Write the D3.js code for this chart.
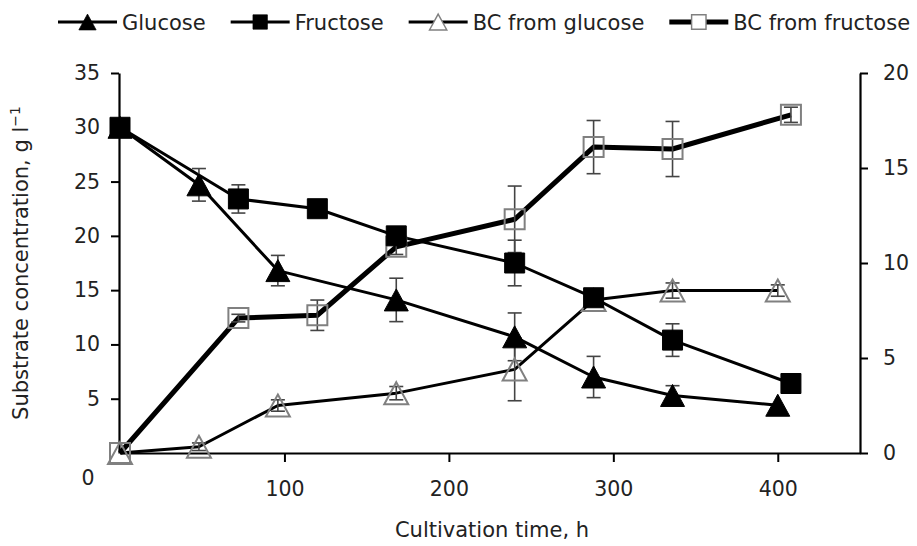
<!DOCTYPE html>
<html>
<head>
<meta charset="utf-8">
<script src="https://cdn.jsdelivr.net/npm/d3@7"></script>
<style>
  body { margin: 0; background: #fff; }
  text { font-family: "DejaVu Sans", Verdana, sans-serif; fill: #222; }
</style>
</head>
<body>
<svg id="chart" width="917" height="546"></svg>
<script>
// time points, h
const glucoseTime  = [0, 48, 96, 168, 240, 288, 336, 400];
const fructoseTime = [0, 72, 120, 168, 240, 288, 336, 408];

// substrate, g/l (left axis)
const glucose     = [30, 24.7, 16.8, 14.1, 10.7, 7.0, 5.3, 4.4];
const glucoseErr  = [0, 1.5, 1.4, 2.0, 2.2, 1.9, 0.9, 0];
const fructose    = [30, 23.4, 22.5, 20.0, 17.5, 14.3, 10.4, 6.4];
const fructoseErr = [0, 1.3, 0.5, 0.8, 2.1, 0.5, 1.5, 0];

// bacterial cellulose (right axis)
const bcGlucose     = [0, 0.33, 2.5, 3.15, 4.4, 8.05, 8.55, 8.55];
const bcGlucoseErr  = [0, 0.2, 0.3, 0.35, 1.65, 0.3, 0.4, 0.3];
const bcFructose    = [0, 7.1, 7.25, 10.85, 12.3, 16.1, 16.0, 17.8];
const bcFructoseErr = [0, 0.2, 0.8, 0.4, 1.75, 1.4, 1.45, 0.4];

const xTicks = [100, 200, 300, 400];
const leftTicks = [5, 10, 15, 20, 25, 30, 35];
const rightTicks = [0, 5, 10, 15, 20];

const svg = d3.select("#chart");

const x = d3.scaleLinear().domain([0, 450]).range([120, 860]);
const yL = d3.scaleLinear().domain([0, 35]).range([453, 73]);
const yR = d3.scaleLinear().domain([0, 20]).range([453, 73]);

// marker shapes
function triPath(w, h) {
  return `M0,${-h / 2}L${w / 2},${h / 2}L${-w / 2},${h / 2}Z`;
}
function sqPath(s) {
  return `M${-s / 2},${-s / 2}h${s}v${s}h${-s}Z`;
}

const series = [
  { name: "Glucose", t: glucoseTime, v: glucose, e: glucoseErr, y: yL,
    shape: triPath(24, 22), fill: "#000", stroke: "#000", sw: 1, lw: 3 },
  { name: "Fructose", t: fructoseTime, v: fructose, e: fructoseErr, y: yL,
    shape: sqPath(20), fill: "#000", stroke: "#000", sw: 1, lw: 3 },
  { name: "BC from glucose", t: glucoseTime, v: bcGlucose, e: bcGlucoseErr, y: yR,
    shape: triPath(24, 22), fill: "none", stroke: "#808080", sw: 2, lw: 3 },
  { name: "BC from fructose", t: fructoseTime, v: bcFructose, e: bcFructoseErr, y: yR,
    shape: sqPath(20), fill: "none", stroke: "#808080", sw: 2, lw: 5 }
];

// axes
const xAxis = svg.append("g")
  .attr("transform", `translate(0,${yL(0)})`)
  .call(d3.axisBottom(x).tickValues(xTicks).tickSize(9).tickSizeOuter(0).tickPadding(19));

const leftAxis = svg.append("g")
  .attr("transform", `translate(${x(0) - 1},0)`)
  .call(d3.axisLeft(yL).tickValues(leftTicks).tickSize(8).tickSizeOuter(0).tickPadding(11));

const rightAxis = svg.append("g")
  .attr("transform", `translate(${x(450)},0)`)
  .call(d3.axisRight(yR).tickValues(rightTicks).tickSize(8).tickSizeOuter(0).tickPadding(15));

[xAxis, leftAxis, rightAxis].forEach(g => {
  g.select(".domain").attr("stroke", "#000").attr("stroke-width", 2.2);
  g.selectAll(".tick line").attr("stroke", "#000").attr("stroke-width", 2);
  g.selectAll(".tick text").style("font-size", "20.5px").attr("fill", "#222")
    .style("font-family", '"DejaVu Sans", Verdana, sans-serif');
});

// stray "0" label of the left axis, sitting below the x axis
svg.append("text")
  .attr("x", x(0) - 32)
  .attr("y", yL(0) + 32)
  .attr("text-anchor", "middle")
  .style("font-size", "20.5px")
  .text("0");

// axis titles
svg.append("text")
  .attr("transform", `translate(28,${(yL(0) + yL(35)) / 2}) rotate(-90)`)
  .attr("text-anchor", "middle")
  .style("font-size", "21px")
  .html('Substrate concentration, g l<tspan dy="-8" font-size="14px">−1</tspan>');

svg.append("text")
  .attr("x", 492)
  .attr("y", 537)
  .attr("text-anchor", "middle")
  .style("font-size", "21px")
  .text("Cultivation time, h");

// lines
const plot = svg.append("g");
series.forEach(s => {
  const pts = s.t.map((t, i) => [x(t), s.y(s.v[i])]);
  plot.append("path")
    .attr("d", d3.line()(pts))
    .attr("fill", "none")
    .attr("stroke", "#000")
    .attr("stroke-width", s.lw)
    .attr("stroke-linejoin", "round");
});

// error bars
series.forEach(s => {
  s.t.forEach((t, i) => {
    if (!s.e[i]) return;
    const cx = x(t), top = s.y(s.v[i] + s.e[i]), bot = s.y(s.v[i] - s.e[i]);
    const g = plot.append("g").attr("stroke", "#444").attr("stroke-width", 1.6);
    g.append("line").attr("x1", cx).attr("x2", cx).attr("y1", top).attr("y2", bot);
    g.append("line").attr("x1", cx - 7).attr("x2", cx + 7).attr("y1", top).attr("y2", top);
    g.append("line").attr("x1", cx - 7).attr("x2", cx + 7).attr("y1", bot).attr("y2", bot);
  });
});

// markers (open ones first so filled ones sit on top)
[2, 3, 1, 0].forEach(k => {
  const s = series[k];
  plot.selectAll(null)
    .data(s.t.map((t, i) => ({ t, v: s.v[i] })))
    .enter().append("path")
    .attr("d", s.shape)
    .attr("transform", d => `translate(${x(d.t)},${s.y(d.v)})`)
    .attr("fill", s.fill)
    .attr("stroke", s.stroke)
    .attr("stroke-width", s.sw);
});

// legend
const legend = svg.append("g").attr("transform", "translate(58,22)");
let lx = 0;
series.forEach(s => {
  const item = legend.append("g").attr("transform", `translate(${lx},0)`);
  item.append("line")
    .attr("x1", 0).attr("x2", 59)
    .attr("stroke", "#000").attr("stroke-width", s.lw);
  item.append("path")
    .attr("d", s.shape)
    .attr("transform", "translate(29.5,0) scale(0.72)")
    .attr("fill", s.fill === "none" ? "#fff" : s.fill)
    .attr("stroke", s.stroke)
    .attr("stroke-width", s.sw);
  const txt = item.append("text")
    .attr("x", 64)
    .attr("y", 0)
    .attr("dy", "0.36em")
    .style("font-size", "21px")
    .text(s.name);
  lx += 64 + txt.node().getComputedTextLength() + 25;
});
</script>
</body>
</html>
